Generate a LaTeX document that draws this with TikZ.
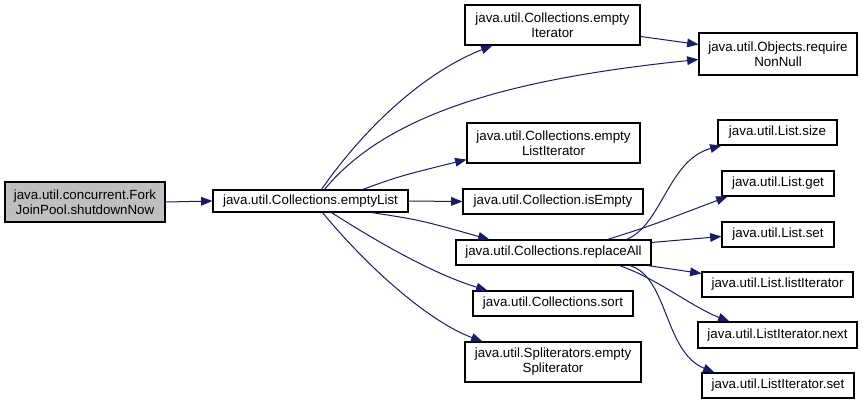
\documentclass[tikz,border=0pt]{standalone}
\usepackage{fontspec}
\setmainfont{Liberation Sans}
\usetikzlibrary{arrows.meta,calc}
\definecolor{edgecol}{HTML}{191970}
\definecolor{boxcol}{HTML}{404040}
\definecolor{grayfill}{HTML}{BFBFBF}
\tikzset{
  box/.style={draw=black,line width=0.8pt,fill=white,inner sep=0pt,align=center,font=\fontsize{10}{11.2}\selectfont},
  edge/.style={draw=edgecol,line width=0.75pt,-{Triangle[length=8.5pt,width=6.5pt]}}
}
\newcommand{\nd}[7][]{\node[box,#1,minimum width={(#4-#2)*0.75pt},minimum height={(#5-#3)*0.75pt}] (#6) at ({(#2+#4)/2},{(#3+#5)/2}) {#7};}
\begin{document}
\begin{tikzpicture}[x=0.75pt,y=-0.75pt]
\useasboundingbox (0,0) rectangle (863,405);
\nd[fill=grayfill]{5}{182}{165}{222}{A}{java.util.concurrent.Fork\\JoinPool.shutdownNow}
\nd{213}{190}{408}{212}{B}{java.util.Collections.emptyList}
\nd{465}{5}{640}{45}{C}{java.util.Collections.empty\\Iterator}
\nd{699}{33}{857}{75}{D}{java.util.Objects.require\\NonNull}
\nd{467}{123}{640}{163}{E}{java.util.Collections.empty\\ListIterator}
\nd{463}{189}{643}{214}{F}{java.util.Collection.isEmpty}
\nd{456}{240}{651}{265}{G}{java.util.Collections.replaceAll}
\nd{718}{120}{837}{145}{H}{java.util.List.size}
\nd{722}{171}{834}{196}{I}{java.util.List.get}
\nd{722}{222}{834}{247}{J}{java.util.List.set}
\nd{702}{272}{853}{297}{K}{java.util.List.listIterator}
\nd{698}{322}{857}{348}{L}{java.util.ListIterator.next}
\nd{702}{373}{854}{398}{M}{java.util.ListIterator.set}
\nd{473}{291}{633}{316}{N}{java.util.Collections.sort}
\nd{465}{342}{641}{382}{O}{java.util.Spliterators.empty\\Spliterator}
% edges
\draw[edge] (A.east) -- (B.west);
\draw[edge] ($(B.north west)+(109,0)$) .. controls (370,120) and (430,70) .. ($(C.south west)+(28,0)$);
\draw[edge] ($(B.north west)+(112,0)$) .. controls (390,110) and (520,78) .. ($(D.north west)+(0,27)$);
\draw[edge] ($(B.north west)+(150,0)$) .. controls (400,176) .. ($(E.south west)+(0,-4)$);
\draw[edge] (B.east) -- (F.west);
\draw[edge] ($(B.south west)+(159,0)$) .. controls (420,220) .. ($(G.north west)+(34,0)$);
\draw[edge] ($(B.south west)+(119,0)$) .. controls (390,250) and (440,276) .. ($(N.north west)+(15,0)$);
\draw[edge] ($(B.south west)+(110,0)$) .. controls (370,270) and (430,322) .. ($(O.north west)+(18,0)$);
\draw[edge] ($(C.north east)+(0,32)$) -- ($(D.north west)+(0,12)$);
\draw[edge] ($(G.north west)+(171,0)$) .. controls (662,225) and (668,160) .. ($(H.south west)+(4,0)$);
\draw[edge] ($(G.north west)+(152,0)$) .. controls (650,226) .. ($(I.south west)+(6,0)$);
\draw[edge] ($(G.north east)+(0,3)$) -- ($(J.north west)+(0,15)$);
\draw[edge] ($(G.south east)+(-4,0)$) -- ($(K.north west)+(0,2)$);
\draw[edge] ($(G.south west)+(164,0)$) .. controls (660,280) and (690,306) .. ($(L.north west)+(32,0)$);
\draw[edge] ($(G.south west)+(174,0)$) .. controls (668,276) and (664,352) .. ($(M.north west)+(13,0)$);
\end{tikzpicture}
\end{document}
